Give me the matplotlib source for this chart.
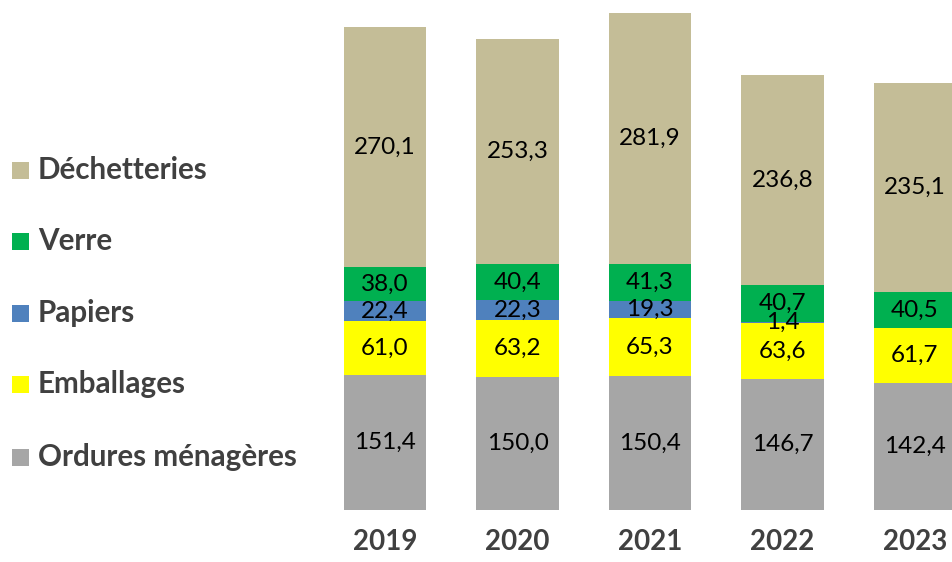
import matplotlib
matplotlib.use("Agg")
import matplotlib.pyplot as plt
from matplotlib.patches import Rectangle
import numpy as np

years = ["2019", "2020", "2021", "2022", "2023"]
ordures = [151.4, 150.0, 150.4, 146.7, 142.4]
emballages = [61.0, 63.2, 65.3, 63.6, 61.7]
papiers = [22.4, 22.3, 19.3, 1.4, 0.0]
verre = [38.0, 40.4, 41.3, 40.7, 40.5]
dechetteries = [270.1, 253.3, 281.9, 236.8, 235.1]

series_names = ["Ordures ménagères", "Emballages", "Papiers", "Verre", "Déchetteries"]
series_values = [ordures, emballages, papiers, verre, dechetteries]
colors = ["#A6A6A6", "#FFFF00", "#4F81BD", "#00B050", "#C4BD97"]

plt.rcParams['font.family'] = ['Lato', 'DejaVu Sans']

W, H = 952, 562
fig = plt.figure(figsize=(W / 100, H / 100), dpi=100)
ax_left = 320
ax = fig.add_axes([ax_left / W, 52 / H, (W - ax_left) / W, 510 / H])

x = np.arange(len(years))
bottom = np.zeros(len(years))
for name, vals, col in zip(series_names, series_values, colors):
    vals = np.array(vals)
    ax.bar(x, vals, bottom=bottom, width=0.62, color=col, edgecolor='none')
    for xi, b, v in zip(x, bottom, vals):
        if v > 0:
            ax.text(xi, b + v / 2, f"{v:.1f}".replace(".", ","), ha='center', va='center',
                    fontsize=17.5, color='black')
    bottom += vals

px_center0 = 385
spacing = 132.5
ax.set_xlim((ax_left - px_center0) / spacing, (W - px_center0) / spacing)
ax.set_ylim(0, 510 / 0.89)
ax.set_xticks(x)
ax.set_xticklabels(years, fontsize=20, fontweight='bold', color='#404040')
ax.tick_params(axis='x', length=0, pad=14)
ax.set_yticks([])
for s in ax.spines.values():
    s.set_visible(False)

# Legend (manual, top-to-bottom reversed order)
leg_y = [170, 241, 313, 384, 457]
for (name, col), yy in zip(list(zip(series_names, colors))[::-1], leg_y):
    sq = 17
    fig.patches.append(Rectangle((12 / W, (H - yy - sq / 2) / H), sq / W, sq / H,
                                 transform=fig.transFigure, facecolor=col, edgecolor='none'))
    fig.text(38 / W, (H - yy) / H, name, ha='left', va='center', fontsize=21.3,
             fontweight='bold', color='#404040')

fig.savefig("out.png", dpi=100)
